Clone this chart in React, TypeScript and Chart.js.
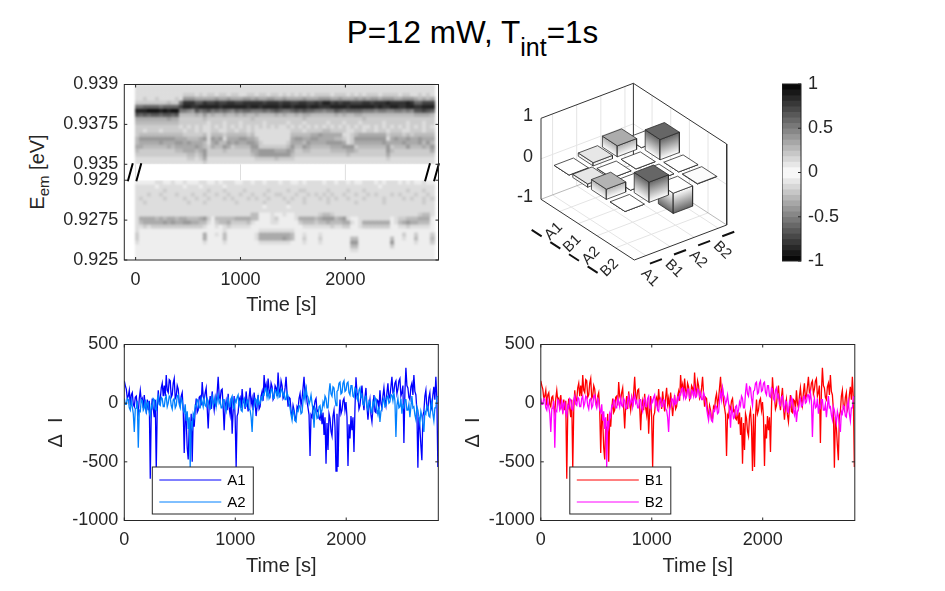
import React, { useEffect, useRef } from 'react';
import Chart from 'chart.js/auto';

const FONT = '"Liberation Sans", Arial, sans-serif';
const INK = '#262626';

// traces, one value every sampleStep seconds
const sampleStep = 9;
const timeTicks = [0, 1000, 2000];
const a1Values = [
  190, 150, 120, 40, 60, 110, -20, 70, 90, -10, -30, 50, 60, -30, -80, 40, 110, 20, 40, -40,
  70, -30, -70, 30, -60, 20, -644, -60, 40, -50, -120, 30, -560, -50, 110, 10, 30, 130, 170, 60,
  150, 60, 240, 110, 90, 200, 190, 50, 70, 170, 210, 40, 60, 150, 120, 10, -20, 60, 90, -60,
  -425, -90, -150, -380, -480, -200, -300, -90, -500, -120, -200, -60, 40, -80, -60, 50, 60, -20, 180, 60,
  30, 90, 130, -40, -216, -20, 60, -50, 100, 10, -60, 40, -30, 90, 225, 60, 30, 110, 120, -30,
  -230, -30, 20, -60, 80, -40, -100, 40, -260, -70, 60, -120, -545, -110, -80, 30, 50, -40, 120, 10,
  30, -50, 100, 10, -70, 50, 130, -10, 40, -60, 90, 0, -110, -20, 70, -50, -30, 60, 100, 20,
  240, 120, 160, 60, 210, 110, 70, 170, 140, 30, 50, 150, 130, 60, 262, 120, 80, 190, 150, 40,
  60, 130, 225, 80, -30, 50, 40, -70, -110, -20, -60, -140, -130, -30, -50, 40, 80, -20, 40, 130,
  225, 70, 120, 10, -40, -100, -450, -100, -120, -30, -50, 20, 40, -70, -60, -130, -140, -60, -180, -80,
  -270, -120, -516, -170, -400, -90, -130, -240, -280, -110, -60, -200, -578, -90, -544, -120, 30, -90, -60, 20,
  40, -60, 10, -120, -536, -180, -300, -110, -230, -120, -416, -40, 220, 90, 60, -50, -20, 80, 150, 20,
  -60, 50, 130, -30, -140, -30, 30, -100, -160, -40, 70, -70, -80, 30, 20, -50, 110, 0, -40, 60,
  130, 30, -20, 90, 170, 40, 60, 140, 225, 90, 100, 170, 190, 80, 120, 190, 210, 60, 90, 150,
  -339, 90, 302, 150, 130, 50, 30, 140, 170, 70, 240, 100, 70, -60, -550, -120, -210, -360, -487, -110,
  -70, 60, 110, -40, -60, 50, 90, -60, -30, 70, 140, 30, 225, 40, -544,
];
const a2Values = [
  40, -10, -10, 40, 30, -40, -60, 20, -30, -90, -245, -50, -40, 20, -380, -60, -70, 30, 20, -60,
  -40, 30, -90, 0, 10, -80, -110, -20, -40, 40, 30, -50, -60, 30, 60, -10, -20, 50, 40, -30,
  -30, 40, 60, -30, 0, 60, 50, -20, -50, 30, 40, -40, -20, 60, 70, -10, -40, 40, 20, -60,
  -80, -10, -150, -70, -220, -120, -544, -150, -200, -90, -120, -20, -30, 30, 20, -40, -40, 40, 10, -30,
  40, -20, -30, 40, 20, -40, -50, 30, 60, -20, 10, 50, -30, 30, 70, 0, 20, -40, -40, 30,
  30, -40, -70, 20, 40, -30, -30, 40, 60, -40, -50, 30, 10, 50, 70, -20, 10, -60, -70, 20,
  40, -30, -30, 30, 20, -50, -60, -120, -245, -50, -20, 40, 30, -20, 50, -10, 0, 50, 30, 80,
  70, 120, 130, 50, 100, 40, 60, 120, 120, 40, 40, 110, 100, 60, 130, 50, 60, 120, 110, 60,
  90, 30, 30, 90, 60, 0, -40, -100, -145, -60, -90, -150, -160, -60, -70, -20, -30, -90, -80, 20,
  90, 30, 130, 70, 50, -10, 20, 70, 0, -60, -210, -40, -70, -130, -120, -30, -20, -90, -60, 10,
  -20, 60, 40, -40, -40, 90, 170, 80, 60, 140, 130, 40, -20, 100, 110, 170, 180, 80, 90, 170,
  190, 100, 110, 170, 180, 90, 70, 150, 150, 60, 50, 130, 120, 40, 20, 110, 130, 50, 70, -10,
  -20, 50, 60, -30, -60, 20, 10, -70, -80, 10, -20, 50, 30, -60, -100, -30, -160, -70, -50, 20,
  40, -30, -20, 50, 60, 0, 10, 70, 70, 20, 90, 20, -288, -20, 40, -40, -30, 40, -90, -20,
  -40, 30, 30, -60, -60, -10, -120, -30, 60, -40, -30, -100, -140, -30, -60, -120, -170, -70, -110, -180,
  -245, -70, -90, -20, -30, -110, -120, -20, 20, -90, -150, -40, -40, 50, 60,
];
// the B traces read the same as the A traces in the picture
const b1Values = a1Values;
const b2Values = a2Values;

// spectra: one hex digit per cell, 0 white to f black, rows from the top of each panel
const columnStep = 38;
const upperRows = [
  '22222 22222 22222 22222 22222 22222 22222 22222 22222 22222 22222 22222 22222 22222 22222',
  '22222 22222 22222 22222 22222 22222 22222 22222 22222 22222 22222 22222 22222 22222 22222',
  '22222 22222 22333 23233 23323 32233 23323 32323 23232 33332 33323 23233 32333 32332 23232',
  '22322 32222 32666 55555 65565 55665 65566 55655 55655 56665 56555 65656 65666 55666 54545',
  '33333 33343 38ccc aacbb cbbcc bbccc ccbcc cbccb bccbb cbddb cbccb bbccb cccdc cccdc 99bbb',
  '88999 98999 9bddc cdddd dcddd dddcd dcddd dcddc dddcd dcccd dddcd ddddd cdccd dccdd ccddd',
  'dddee edede e8876 a89a8 98987 98998 88989 a9889 a9a99 88788 a9899 99888 78877 88787 aaba9',
  'a9a9a a9aa9 a4444 54645 44544 54544 54444 54544 54554 44444 54544 55444 44444 44444 55554',
  '55555 55565 53333 33433 33333 33334 33333 33333 33433 33333 33333 33433 33333 33333 33333',
  '44444 44444 43333 33323 33233 32333 33233 33323 33233 33323 33233 32333 33233 33323 33233',
  '33333 33333 32323 23223 23232 32323 23232 32232 32323 23232 32323 23223 23232 32323 23232',
  '33233 32333 33233 23223 32233 23323 22222 22223 33233 33443 33322 33233 23323 33223 33233',
  '34444 44444 44333 33424 44344 44434 22222 22224 44445 56555 55223 45555 55534 44343 44444',
  '46666 66666 55544 45626 56255 56655 42222 22225 66556 65555 44323 66666 66625 65565 56555',
  '45555 56555 66565 55425 64465 65566 53222 22235 55465 55566 66523 55555 55655 55655 56464',
  '55444 44454 55555 65435 44653 44446 63333 33346 44654 44445 55666 34444 44463 44464 44546',
  '43333 33333 44555 45633 33433 33335 56666 55565 33443 33334 44455 43333 33364 33333 33335',
  '33333 33333 33344 34633 33333 33334 56666 66664 33333 33333 33343 33333 33353 33333 33333',
  '22222 22222 22233 23522 22222 22222 33333 43333 22222 22222 22222 22222 22232 22222 22222',
  '22222 22222 22222 22322 22222 22222 22222 22222 22222 22222 22222 22222 22222 22222 22222',
];
const lowerRows = [
  '11111 22112 11211 12211 21222 11221 22122 21221 12122 22122 12212 11222 12122 21212 11211',
  '22222 12222 22122 21222 22122 22222 22222 22222 22222 22222 22222 22222 21222 22222 22222',
  '22222 22322 22222 22232 22322 22322 22232 22232 23322 22232 22232 22322 22222 22232 22322',
  '22232 23222 32223 22322 32232 23223 22322 33222 32232 32323 22322 32232 32223 23222 32232',
  '23222 22322 22322 32232 22323 22232 32232 22323 22322 23232 32232 22322 22322 22323 22323',
  '22322 22222 22232 22322 22222 32222 22322 22232 22322 22232 22222 32222 22322 22222 22322',
  '22222 22222 22222 22222 22222 22222 22122 22212 22222 22222 22222 22222 22222 22222 22222',
  '22222 22222 22222 22222 22222 22222 22222 22222 22222 22222 22222 22222 22222 22222 22222',
  '22222 22222 22222 22222 22222 22224 41112 11211 22222 23443 22222 22222 22222 22222 23442',
  '25555 45455 45544 45631 44444 55554 41112 31111 25555 45666 45621 12222 22221 23344 45551',
  '24555 55656 55665 54421 34453 33342 11112 21111 13444 34454 44552 12555 55551 24565 54441',
  '22323 33333 33333 33211 21232 22221 11111 11111 11222 22223 22331 12333 33331 12232 22221',
  '21111 11111 11111 11111 11211 11111 12222 22222 11111 11111 11111 11111 11111 11111 11111',
  '31111 11111 11111 11511 21411 11111 25555 55554 11211 12111 11111 11111 11111 11311 31113',
  '31111 11111 11111 11511 11411 11111 25555 55654 11311 13111 11114 41111 11114 11211 41114',
  '21111 11111 11111 11211 11211 11111 12222 22221 11211 12111 11116 61111 11116 11111 21113',
  '11111 11111 11111 11111 11111 11111 11111 11111 11111 11111 11114 41111 11113 11111 11111',
  '11111 11111 11111 11111 11111 11111 11111 11111 11111 11111 11112 21111 11111 11111 11111',
  '11111 11111 11111 11111 11111 11111 11111 11111 11111 11111 11111 11111 11111 11111 11111',
  '11111 11111 11111 11111 11111 11111 11111 11111 11111 11111 11111 11111 11111 11111 11111',
];
const rowStep = 0.0002;
const lowerPanelTop = 0.929;
const upperPanelBottom = 0.9298;
const upperPanelTop = 0.9338; // the axis is broken, the upper panel sits just above the gap
const energyTickPositions = [0.925, 0.927, 0.929, 0.9298, 0.9318, 0.9338];
const energyTickLabels = ['0.925', '0.9275', '0.929', '0.935', '0.9375', '0.939'];

// correlation matrix, row = left floor axis, column = right floor axis
const matrixLabels = ['A1', 'B1', 'A2', 'B2'];
const matrixValues = [
  [0, 0.08, 0.27, 0],
  [0.08, 0, 0, 0.5],
  [0.25, 0, 0, 0],
  [0, 0.5, -0.5, 0.01],
];
const colorbarLevels = [
  -1, -0.9375, -0.875, -0.8125, -0.75, -0.6875, -0.625, -0.5625, -0.5, -0.4375, -0.375, -0.3125, -0.25, -0.1875, -0.125, -0.0625,
  0, 0.0625, 0.125, 0.1875, 0.25, 0.3125, 0.375, 0.4375, 0.5, 0.5625, 0.625, 0.6875, 0.75, 0.8125, 0.875, 0.9375,
];

const gray = (v: number) => {
  const g = Math.max(0, Math.round(255 * (1 - 1.2 * Math.abs(v))));
  return `rgb(${g},${g},${g})`;
};

Chart.defaults.font.family = FONT;
Chart.defaults.color = INK;

// MATLAB style box with inward ticks
const boxAxes = {
  id: 'boxAxes',
  afterDatasetsDraw(chart: any) {
    const { ctx, chartArea: a, scales } = chart;
    ctx.save();
    ctx.strokeStyle = INK;
    ctx.lineWidth = 1;
    ctx.strokeRect(a.left, a.top, a.right - a.left, a.bottom - a.top);
    ctx.beginPath();
    for (const t of scales.x.ticks) {
      const x = scales.x.getPixelForValue(t.value);
      ctx.moveTo(x, a.bottom);
      ctx.lineTo(x, a.bottom - 3);
      ctx.moveTo(x, a.top);
      ctx.lineTo(x, a.top + 3);
    }
    for (const t of scales.y.ticks) {
      const y = scales.y.getPixelForValue(t.value);
      ctx.moveTo(a.left, y);
      ctx.lineTo(a.left + 3, y);
      ctx.moveTo(a.right, y);
      ctx.lineTo(a.right - 3, y);
    }
    ctx.stroke();
    ctx.restore();
  },
};

// white gap of the broken axis with its grid lines and the // marks
const axisBreak = {
  id: 'axisBreak',
  beforeDatasetsDraw(chart: any) {
    const { ctx, chartArea: a, scales } = chart;
    const top = scales.y.getPixelForValue(upperPanelBottom);
    const bottom = scales.y.getPixelForValue(lowerPanelTop);
    ctx.save();
    ctx.fillStyle = '#fff';
    ctx.fillRect(a.left, top, a.right - a.left, bottom - top);
    ctx.strokeStyle = '#dedede';
    ctx.beginPath();
    for (const t of scales.x.ticks) {
      const x = scales.x.getPixelForValue(t.value);
      ctx.moveTo(x, top);
      ctx.lineTo(x, bottom);
    }
    ctx.stroke();
    ctx.restore();
  },
  afterDatasetsDraw(chart: any) {
    const { ctx, chartArea: a, scales } = chart;
    const top = scales.y.getPixelForValue(upperPanelBottom) - 1;
    const bottom = scales.y.getPixelForValue(lowerPanelTop) + 1;
    ctx.save();
    ctx.strokeStyle = '#000';
    ctx.lineWidth = 2;
    ctx.beginPath();
    for (const x of [a.left + 3.5, a.left + 12, a.right - 13.5, a.right - 4.5]) {
      ctx.moveTo(x, bottom);
      ctx.lineTo(x + 5, top);
    }
    ctx.stroke();
    ctx.restore();
  },
};

// legend box inside the axes, lower left
const insetLegend = (x: number) => ({
  id: 'insetLegend',
  afterDraw(chart: any) {
    const { ctx, chartArea: a } = chart;
    const top = a.bottom - 53.5;
    ctx.save();
    ctx.fillStyle = '#fff';
    ctx.fillRect(a.left + x, top, 101, 47);
    ctx.strokeStyle = INK;
    ctx.lineWidth = 1;
    ctx.strokeRect(a.left + x, top, 101, 47);
    ctx.font = `15px ${FONT}`;
    ctx.textBaseline = 'middle';
    chart.data.datasets.forEach((d: any, i: number) => {
      const y = top + 13 + i * 22;
      ctx.strokeStyle = d.borderColor;
      ctx.beginPath();
      ctx.moveTo(a.left + x + 7, y);
      ctx.lineTo(a.left + x + 69, y);
      ctx.stroke();
      ctx.fillStyle = '#000';
      ctx.fillText(d.label, a.left + x + 75, y + 1);
    });
    ctx.restore();
  },
});

const timeAxis = (min: number, max: number, height: number, titleBottom: number) => ({
  type: 'linear',
  offset: false,
  min,
  max,
  grid: { display: false, drawTicks: false },
  border: { display: false },
  afterFit: (s: any) => { s.height = height; },
  afterBuildTicks: (s: any) => { s.ticks = timeTicks.map((value) => ({ value })); },
  ticks: { padding: 9, autoSkip: false, maxRotation: 0, font: { size: 18 }, callback: (v: any) => String(v) },
  title: { display: true, text: 'Time [s]', font: { size: 20 }, padding: { top: 0, bottom: titleBottom } },
});

const traceConfig = (names: string[], series: number[][], colors: string[], yWidth: number, titlePad: number, legendX: number) => ({
  type: 'line',
  data: {
    datasets: series.map((values, s) => ({
      label: names[s],
      data: values.map((y, i) => ({ x: i * sampleStep, y })),
      borderColor: colors[s],
      borderWidth: 1.3,
      pointRadius: 0,
      tension: 0,
      order: series.length - s,
    })),
  },
  options: {
    responsive: false,
    animation: false,
    devicePixelRatio: 1,
    layout: { padding: { top: 24.5, right: 470 - 314 - yWidth } },
    plugins: { legend: { display: false }, tooltip: { enabled: false } },
    scales: {
      x: timeAxis(0, 2830, 70.5, 13),
      y: {
        min: -1000,
        max: 500,
        grid: { display: false, drawTicks: false },
        border: { display: false },
        afterFit: (s: any) => { s.width = yWidth; },
        ticks: { stepSize: 500, padding: 6, font: { size: 18 }, callback: (v: any) => String(v) },
        title: { display: true, text: '\u0394  I', font: { size: 20 }, padding: { top: titlePad, bottom: 0 } },
      },
    },
  },
  plugins: [boxAxes, insetLegend(legendX)],
});

const heatDatasets = (rows: string[], panelTop: number) =>
  rows.map((row, r) => {
    const cells = row.replace(/ /g, '').split('');
    return {
      grouped: false,
      barThickness: 4.6,
      borderWidth: 0,
      data: cells.map((_, c) => ({
        x: (c + 0.5) * columnStep,
        y: [panelTop - (r + 1) * rowStep, panelTop - r * rowStep],
      })),
      backgroundColor: cells.map((d) => {
        const g = 255 - 17 * parseInt(d, 16);
        return `rgb(${g},${g},${g})`;
      }),
    };
  });

const SPECTRA_MIN_T = -108;
const SPECTRA_MAX_T = 2888;

// cells only, this canvas is softened with a css blur and the axes sit on their own canvas above it
const spectraCellsConfig = () => ({
  type: 'bar',
  data: { datasets: [...heatDatasets(upperRows, upperPanelTop), ...heatDatasets(lowerRows, lowerPanelTop)] },
  options: {
    responsive: false,
    animation: false,
    devicePixelRatio: 1,
    layout: { padding: { left: 124.3, top: 24.5, right: 31.5, bottom: 70 } },
    plugins: { legend: { display: false }, tooltip: { enabled: false } },
    scales: {
      x: { type: 'linear', offset: false, min: SPECTRA_MIN_T, max: SPECTRA_MAX_T, display: false },
      y: { type: 'linear', min: 0.925, max: upperPanelTop, display: false },
    },
  },
});

const spectraAxesConfig = () => ({
  type: 'scatter',
  data: { datasets: [] },
  options: {
    responsive: false,
    animation: false,
    devicePixelRatio: 1,
    layout: { padding: { top: 24.5, right: 31.5 } },
    plugins: { legend: { display: false }, tooltip: { enabled: false } },
    scales: {
      x: timeAxis(SPECTRA_MIN_T, SPECTRA_MAX_T, 70, 13),
      y: {
        type: 'linear',
        min: 0.925,
        max: upperPanelTop,
        grid: { display: false, drawTicks: false },
        border: { display: false },
        afterFit: (s: any) => { s.width = 124.3; },
        afterBuildTicks: (s: any) => { s.ticks = energyTickPositions.map((value) => ({ value })); },
        ticks: {
          padding: 6,
          autoSkip: false,
          font: { size: 18 },
          callback: (v: any) => energyTickLabels[energyTickPositions.indexOf(v)],
        },
      },
    },
  },
  plugins: [axisBreak, boxAxes],
});

const colorbarConfig = () => ({
  type: 'bar',
  data: {
    datasets: [{
      grouped: false,
      barThickness: 19,
      borderWidth: 0,
      data: colorbarLevels.map((v) => ({ x: 0.5, y: [v, v + 0.0625] })),
      backgroundColor: colorbarLevels.map((v) => {
        const g = Math.round(255 * (1 - Math.abs(v + 0.03125)));
        return `rgb(${g},${g},${g})`;
      }),
    }],
  },
  options: {
    responsive: false,
    animation: false,
    devicePixelRatio: 1,
    layout: { padding: { top: 24, bottom: 20 } },
    plugins: { legend: { display: false }, tooltip: { enabled: false } },
    scales: {
      x: { type: 'linear', offset: false, min: 0, max: 1, display: false },
      y: {
        position: 'right',
        min: -1,
        max: 1,
        grid: { display: false, drawTicks: false },
        border: { display: false },
        afterFit: (s: any) => { s.width = 50; },
        ticks: { stepSize: 0.5, padding: 7, font: { size: 18 }, callback: (v: any) => String(v) },
      },
    },
  },
  plugins: [{
    id: 'colorbarFrame',
    afterDatasetsDraw(chart: any) {
      const { ctx, chartArea: a, scales } = chart;
      ctx.save();
      ctx.strokeStyle = INK;
      ctx.strokeRect(a.left, a.top, a.right - a.left, a.bottom - a.top);
      ctx.beginPath();
      for (const t of scales.y.ticks) {
        const y = scales.y.getPixelForValue(t.value);
        ctx.moveTo(a.right, y);
        ctx.lineTo(a.right - 3, y);
      }
      ctx.stroke();
      ctx.restore();
    },
  }],
});

// 3D bars: world coordinates are projected to the picture plane, the chart scales do the rest
const X_MAX = 5;
const Y_MIN = 0.52;
const Y_MAX = 4.35;
const project = (x: number, y: number, z: number) => {
  const v = (y - Y_MIN) / (Y_MAX - Y_MIN);
  return {
    x: 61 + (93.3 * x) / X_MAX + 92.4 * v,
    y: 129.3 + (60.7 * x) / X_MAX - 35 * v - 40.5 * (z + 1),
  };
};

const polyLine = (pts: any[], color: string, width: number) => ({
  data: pts.map((p) => project(p[0], p[1], p[2])),
  showLine: true,
  fill: false,
  borderColor: color,
  borderWidth: width,
  pointRadius: 0,
  tension: 0,
  clip: false,
});

const faceData = (pts: any[], fillColor: any) => ({
  ...polyLine([...pts, pts[0]], '#2c2c2c', 0.8),
  fill: 'shape',
  backgroundColor: fillColor,
});

// shade a side wall from its top edge to its bottom edge, the lines of equal shade follow the top edge
const sideShade = (pts: any[], topColor: string, bottomColor: string) => (ctx: any) => {
  const { chart } = ctx;
  const px = (p: any) => {
    const q = project(p[0], p[1], p[2]);
    return { x: chart.scales.x.getPixelForValue(q.x), y: chart.scales.y.getPixelForValue(q.y) };
  };
  const a = px(pts[0]);
  const b = px(pts[1]);
  const c = px(pts[3]);
  const ex = b.x - a.x;
  const ey = b.y - a.y;
  const fx = c.x - a.x;
  const fy = c.y - a.y;
  const k = (fx * ex + fy * ey) / (ex * ex + ey * ey);
  const endX = a.x + fx - k * ex;
  const endY = a.y + fy - k * ey;
  if (![a.x, a.y, endX, endY].every(Number.isFinite)) return topColor; // scales not laid out yet
  const g = chart.ctx.createLinearGradient(a.x, a.y, endX, endY);
  g.addColorStop(0, topColor);
  g.addColorStop(1, bottomColor);
  return g;
};

const barsConfig = () => {
  const grid = '#e4e4e4';
  const frame = '#333333';
  const sets: any[] = [];
  for (let k = 1; k <= 4; k++) {
    sets.push(polyLine([[k, Y_MIN, -1], [k, Y_MAX, -1], [k, Y_MAX, 1]], grid, 1));
    sets.push(polyLine([[0, k, -1], [X_MAX, k, -1]], grid, 1));
    sets.push(polyLine([[0, k, -1], [0, k, 1]], grid, 1));
  }
  sets.push(polyLine([[0, Y_MIN, 0], [0, Y_MAX, 0], [X_MAX, Y_MAX, 0]], grid, 1));
  sets.push(polyLine([[0, Y_MIN, -1], [0, Y_MAX, -1], [X_MAX, Y_MAX, -1]], '#9a9a9a', 0.7));
  sets.push(polyLine([[0, Y_MIN, -1], [0, Y_MIN, 1], [0, Y_MAX, 1], [X_MAX, Y_MAX, 1], [X_MAX, Y_MAX, -1], [X_MAX, Y_MIN, -1], [0, Y_MIN, -1]], frame, 1));
  sets.push(polyLine([[0, Y_MAX, -1], [0, Y_MAX, 1]], frame, 1));

  const cells: { i: number; j: number; v: number }[] = [];
  matrixValues.forEach((row, i) => row.forEach((v, j) => cells.push({ i, j, v })));
  cells.sort((p, q) => p.i - p.j - (q.i - q.j));
  for (const { i, j, v } of cells) {
    const x0 = i + 0.6;
    const x1 = i + 1.4;
    const y0 = j + 0.6;
    const y1 = j + 1.4;
    const top = Math.max(v, 0);
    const low = Math.min(v, 0);
    const upper = gray(v);
    const left = [[x0, y0, top], [x1, y0, top], [x1, y0, low], [x0, y0, low]];
    const right = [[x1, y0, top], [x1, y1, top], [x1, y1, low], [x1, y0, low]];
    const from = v > 0 ? upper : '#ffffff';
    const to = v > 0 ? '#ffffff' : upper;
    sets.push(faceData(left, sideShade(left, from, to)));
    sets.push(faceData(right, sideShade(right, from, to)));
    sets.push(faceData([[x0, y0, top], [x1, y0, top], [x1, y1, top], [x0, y1, top]], v > 0 ? upper : '#ffffff'));
  }
  sets.forEach((s, k) => { s.order = -k; });

  return {
    type: 'scatter',
    data: { datasets: sets },
    options: {
      responsive: false,
      animation: false,
      devicePixelRatio: 1,
      layout: { padding: 0 },
      plugins: { legend: { display: false }, tooltip: { enabled: false } },
      scales: {
        x: { type: 'linear', min: 0, max: 270, display: false },
        y: { type: 'linear', min: 0, max: 240, reverse: true, display: false },
      },
    },
    plugins: [{
      id: 'barsAxisText',
      afterDraw(chart: any) {
        const { ctx, scales } = chart;
        const at = (x: number, y: number, z: number) => {
          const p = project(x, y, z);
          return { x: scales.x.getPixelForValue(p.x), y: scales.y.getPixelForValue(p.y) };
        };
        ctx.save();
        ctx.fillStyle = INK;
        ctx.strokeStyle = '#111';
        ctx.textAlign = 'center';
        ctx.textBaseline = 'middle';
        matrixLabels.forEach((label, k) => {
          const l = at(k + 1, Y_MIN, -1);
          const r = at(X_MAX, k + 1, -1);
          ctx.lineWidth = 2;
          ctx.beginPath();
          ctx.moveTo(l.x - 28, l.y + 18.5);
          ctx.lineTo(l.x - 18, l.y + 25);
          ctx.moveTo(r.x + 4, r.y + 8);
          ctx.lineTo(r.x + 16, r.y + 3.5);
          ctx.stroke();
          ctx.font = `15px ${FONT}`;
          ctx.save();
          ctx.translate(l.x - 6, l.y + 20);
          ctx.rotate(-Math.PI / 4);
          ctx.fillText(label, 0, 0);
          ctx.restore();
          ctx.save();
          ctx.translate(r.x + 4, r.y + 22);
          ctx.rotate(Math.PI / 4);
          ctx.fillText(label, 0, 0);
          ctx.restore();
        });
        ctx.font = `18px ${FONT}`;
        ctx.textAlign = 'right';
        for (const z of [1, 0, -1]) {
          const p = at(0, Y_MIN, z);
          ctx.fillText(String(z), p.x - 8, p.y - 2);
        }
        ctx.restore();
      },
    }],
  };
};

const ChartCanvas = ({ left, top, width, height, config, blur }: { left: number; top: number; width: number; height: number; config: () => any; blur?: string }) => {
  const ref = useRef<HTMLCanvasElement>(null);
  useEffect(() => {
    if (!ref.current) return;
    const chart = new Chart(ref.current, config());
    return () => chart.destroy();
  }, [config]);
  return <canvas ref={ref} width={width} height={height} style={{ position: 'absolute', left, top, width, height, filter: blur }} />;
};

const leftTraces = () => traceConfig(['A1', 'A2'], [a1Values, a2Values], ['#0000ff', '#0080ff'], 124.3, 44, 28);
const rightTraces = () => traceConfig(['B1', 'B2'], [b1Values, b2Values], ['#ff0000', '#ff00ff'], 85.8, 6, 29);

const App = () => (
  <div style={{ position: 'absolute', left: 0, top: 0, width: 945, height: 591, background: '#fff', overflow: 'hidden', fontFamily: FONT, color: '#000' }}>
    <div style={{ position: 'absolute', left: 0, width: 945, top: 14, textAlign: 'center', fontSize: 31.5, lineHeight: '36px', whiteSpace: 'nowrap' }}>
      P=12 mW, T<span style={{ fontSize: 25, verticalAlign: '-13px', lineHeight: 0 }}>int</span>=1s
    </div>
    <div style={{ position: 'absolute', left: 37, top: 172, transform: 'translate(-50%,-50%) rotate(-90deg)', fontSize: 20, color: INK, whiteSpace: 'nowrap' }}>
      E<sub style={{ fontSize: 15, lineHeight: 0 }}>em</sub> [eV]
    </div>
    <ChartCanvas left={0} top={60} width={470} height={270} config={spectraCellsConfig} blur="blur(0.9px)" />
    <ChartCanvas left={0} top={60} width={470} height={270} config={spectraAxesConfig} />
    <ChartCanvas left={480} top={70} width={270} height={240} config={barsConfig} />
    <ChartCanvas left={782} top={60} width={69} height={221} config={colorbarConfig} />
    <ChartCanvas left={0} top={320} width={470} height={271} config={leftTraces} />
    <ChartCanvas left={455} top={320} width={470} height={271} config={rightTraces} />
  </div>
);

export default App;
